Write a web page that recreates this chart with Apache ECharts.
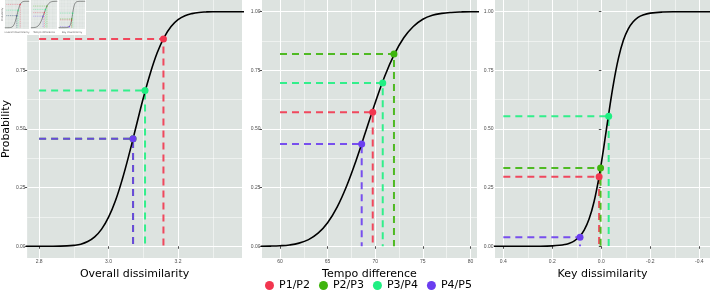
<!DOCTYPE html>
<html>
<head>
<meta charset="utf-8">
<script src="https://cdn.jsdelivr.net/npm/echarts@6/dist/echarts.min.js"></script>
<style>
html, body { margin: 0; padding: 0; background: #fff; }
#chart { width: 710px; height: 291px; }
</style>
</head>
<body>
<div id="chart"></div>
<script>
var pairNames = ['P1/P2', 'P2/P3', 'P3/P4', 'P4/P5'];
var pairColors = ['#f2364f', '#3fb50e', '#1fef82', '#6b3ef0'];

var probTicks = [0, 0.25, 0.5, 0.75, 1];
var probMinor = [0.125, 0.375, 0.625, 0.875];

// overall dissimilarity panel (curve)
var overallX = [2.76, 2.80, 2.84, 2.88, 2.90, 2.92, 2.94, 2.96, 2.98, 3.00, 3.02, 3.04, 3.06, 3.08, 3.10, 3.12, 3.14, 3.16, 3.18, 3.20, 3.22, 3.24, 3.26, 3.28, 3.30, 3.39];
var overallP = [0, 0, 0.0002, 0.0016, 0.004, 0.009, 0.020, 0.040, 0.073, 0.124, 0.195, 0.288, 0.397, 0.515, 0.632, 0.737, 0.825, 0.891, 0.937, 0.966, 0.983, 0.992, 0.997, 0.999, 1, 1];
var overallPairX = [3.158, 3.0705, 3.105, 3.0705];
var overallPairP = [0.884, 0.458, 0.664, 0.458];
var overallTicks = [2.8, 3.0, 3.2];
var overallMinor = [2.9, 3.1, 3.3];

// tempo difference panel
var tempoX = [58, 59, 60, 61, 62, 63, 64, 65, 66, 67, 68, 69, 70, 71, 72, 73, 74, 75, 76, 77, 78, 79, 80, 81];
var tempoP = [0.0003, 0.0008, 0.0023, 0.0057, 0.0134, 0.0285, 0.0558, 0.1006, 0.167, 0.257, 0.367, 0.489, 0.612, 0.725, 0.818, 0.889, 0.937, 0.968, 0.985, 0.993, 0.997, 0.999, 1, 1];
var tempoPairX = [69.74, 71.97, 70.79, 68.58];
var tempoPairP = [0.571, 0.820, 0.696, 0.4365];
var tempoTicks = [60, 65, 70, 75, 80];
var tempoMinor = [62.5, 67.5, 72.5, 77.5];

// key dissimilarity panel (reversed axis)
var keyX = [0.45, 0.30, 0.25, 0.20, 0.17, 0.15, 0.13, 0.11, 0.09, 0.07, 0.05, 0.03, 0.01, -0.01, -0.03, -0.05, -0.07, -0.09, -0.11, -0.13, -0.15, -0.17, -0.20, -0.25, -0.30, -0.45];
var keyP = [0, 0.0001, 0.0004, 0.0018, 0.0042, 0.0075, 0.0132, 0.0232, 0.0403, 0.069, 0.116, 0.189, 0.292, 0.422, 0.564, 0.696, 0.802, 0.878, 0.927, 0.957, 0.976, 0.986, 0.994, 0.9986, 0.9997, 1];
var keyPairX = [0.009, 0.003, -0.030, 0.087];
var keyPairP = [0.296, 0.334, 0.554, 0.039];
var keyTicks = [0.4, 0.2, 0.0, -0.2, -0.4];
var keyMinor = [0.3, 0.1, -0.1, -0.3];

var panels = [
  { title: 'Overall dissimilarity', cx: overallX, cp: overallP, px: overallPairX, pp: overallPairP,
    ticks: overallTicks, minor: overallMinor, dec: 1, range: [2.7655, 3.3842], inverse: false,
    left: 27, miniLeft: 3, nameGap: 9.5, yName: 'Probability' },
  { title: 'Tempo difference', cx: tempoX, cp: tempoP, px: tempoPairX, pp: tempoPairP,
    ticks: tempoTicks, minor: tempoMinor, dec: 0, range: [58.11, 80.69], inverse: false,
    left: 262, miniLeft: 31, nameGap: 7, yName: '' },
  { title: 'Key dissimilarity', cx: keyX, cp: keyP, px: keyPairX, pp: keyPairP,
    ticks: keyTicks, minor: keyMinor, dec: 1, range: [-0.4436, 0.434], inverse: true,
    left: 495, miniLeft: 59, nameGap: 9.5, yName: '' }
];

var option = {
  animation: false,
  grid: [], xAxis: [], yAxis: [], series: [],
  legend: {
    left: 265, top: 280, padding: 0, itemGap: 9, itemWidth: 9, itemHeight: 9,
    textStyle: { fontFamily: 'DejaVu Sans', fontSize: 11, color: '#000' },
    data: pairNames.map(function (n) { return { name: n, icon: 'circle' }; })
  },
  graphic: [{ type: 'rect', shape: { x: 0, y: 0, width: 86, height: 35 }, style: { fill: '#fff' }, z: 8, silent: true }]
};

function addPanel(p, mini) {
  var g = option.grid.length;
  var z = mini ? 10 : 0;
  option.grid.push({
    left: mini ? p.miniLeft : p.left, top: 0, width: mini ? 26 : 215, height: mini ? 29 : 258,
    show: true, backgroundColor: '#dde3e0', borderWidth: 0, z: z
  });
  var xi = option.xAxis.length, yi = option.yAxis.length;
  option.xAxis.push({
    type: 'value', gridIndex: g, min: p.range[0], max: p.range[1], inverse: p.inverse, z: z,
    name: p.title, nameLocation: 'middle', nameGap: mini ? 1.5 : p.nameGap,
    nameTextStyle: { fontFamily: 'DejaVu Sans', fontSize: mini ? 2.5 : 11, color: mini ? '#666' : '#000' },
    axisLine: { show: false },
    axisTick: { show: !mini, length: 2.5, lineStyle: { color: '#4d4d4d' }, customValues: p.ticks },
    axisLabel: { show: !mini, customValues: p.ticks, fontFamily: 'Liberation Sans', fontSize: 5, color: '#4d4d4d', margin: 1,
      formatter: function (v) { return v.toFixed(p.dec); } },
    splitLine: { show: true, lineStyle: { color: '#fff', width: mini ? 0.3 : 1 } }
  });
  option.xAxis.push({
    type: 'value', gridIndex: g, min: p.range[0], max: p.range[1], inverse: p.inverse, z: z,
    axisLine: { show: false }, axisLabel: { show: false },
    axisTick: { show: false, customValues: p.minor },
    splitLine: { show: true, lineStyle: { color: '#fff', width: mini ? 0.2 : 0.5 } }
  });
  option.yAxis.push({
    type: 'value', gridIndex: g, min: -0.05, max: 1.05, z: z,
    name: p.yName, nameLocation: 'middle', nameGap: mini ? 1 : 14,
    nameTextStyle: { fontFamily: 'DejaVu Sans', fontSize: mini ? 2.5 : 11, color: mini ? '#666' : '#000' },
    axisLine: { show: false },
    axisTick: { show: !mini, length: 2.5, lineStyle: { color: '#4d4d4d' }, customValues: probTicks },
    axisLabel: { show: !mini, customValues: probTicks, fontFamily: 'Liberation Sans', fontSize: 5, color: '#4d4d4d', margin: 1.5,
      formatter: function (v) { return v.toFixed(2); } },
    splitLine: { show: true, lineStyle: { color: '#fff', width: mini ? 0.3 : 1 } }
  });
  option.yAxis.push({
    type: 'value', gridIndex: g, min: -0.05, max: 1.05, z: z,
    axisLine: { show: false }, axisLabel: { show: false },
    axisTick: { show: false, customValues: probMinor },
    splitLine: { show: true, lineStyle: { color: '#fff', width: mini ? 0.2 : 0.5 } }
  });

  pairNames.forEach(function (name, k) {
    var x = p.px[k], y = p.pp[k];
    option.series.push({
      type: 'line', xAxisIndex: xi, yAxisIndex: yi, silent: true, showSymbol: false, z: mini ? 11 : 2,
      data: [[p.ticks[0], y], [x, y], [x, 0]],
      lineStyle: { color: pairColors[k], width: mini ? 0.4 : 2, type: mini ? [1, 0.8] : [7, 5], opacity: 0.9 }
    });
  });
  option.series.push({
    type: 'line', xAxisIndex: xi, yAxisIndex: yi, silent: true, showSymbol: false, z: mini ? 12 : 3,
    smooth: 0.4,
    data: p.cx.map(function (x, i) { return [x, p.cp[i]]; }),
    lineStyle: { color: '#000', width: mini ? 0.4 : 1.6 }
  });
  pairNames.forEach(function (name, k) {
    option.series.push({
      type: 'scatter', name: mini ? undefined : name, xAxisIndex: xi, yAxisIndex: yi, z: mini ? 13 : 4,
      symbolSize: mini ? 1.2 : 7,
      data: [[p.px[k], p.pp[k]]],
      itemStyle: { color: pairColors[k], opacity: 1 }
    });
  });
}

panels.forEach(function (p) { addPanel(p, false); });
panels.forEach(function (p) { addPanel(p, true); });

var myChart = echarts.init(document.getElementById('chart'), null, { renderer: 'canvas' });
myChart.setOption(option);
</script>
</body>
</html>
